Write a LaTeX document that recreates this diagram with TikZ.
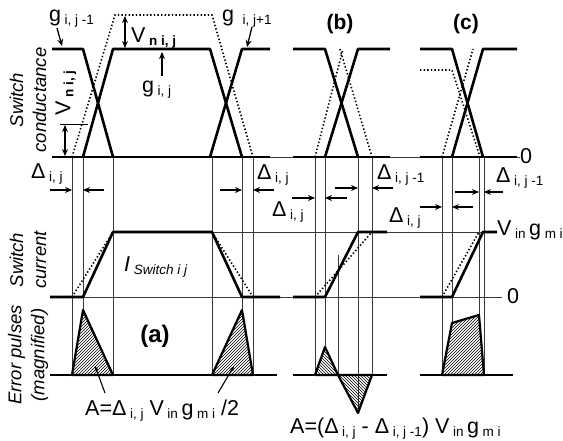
\documentclass[tikz,border=0pt]{standalone}
\usepackage{fontspec}
\setmainfont{Liberation Sans}
\usepackage{tikz}
\usetikzlibrary{arrows.meta, patterns}
\definecolor{grisGuia}{HTML}{3A3A3A}
\newcommand{\sbi}[1]{\,\raisebox{-3pt}{\fontsize{13.5}{14}\selectfont #1}}

\begin{document}
\begin{tikzpicture}[
    x=1pt, y=-1pt,
    font=\fontsize{21.5}{23}\selectfont,
    onda/.style={line width=2.6pt, line join=round},
    punteada/.style={line width=1.6pt, dash pattern=on 1.4pt off 2.2pt},
    guia/.style={line width=0.7pt, draw=grisGuia},
    flecha/.style={-{Stealth[length=7pt, width=6pt]}, line width=1.3pt},
    doble/.style={{Stealth[length=7pt, width=6pt]}-{Stealth[length=7pt, width=6pt]}, line width=1.3pt},
    eje/.style={font=\fontsize{18.5}{23}\selectfont\itshape, rotate=90, align=center},
    rotulo/.style={anchor=base west, inner sep=0pt},
    rayadoA/.style={pattern=north east lines, line width=2.2pt, line join=round},
    rayadoB/.style={pattern=north west lines, line width=2.2pt, line join=round}
]
    \useasboundingbox (0,0) rectangle (563,441);

    % ejes de la izquierda
    \node[eje] (ejeG) at (28,100) {Switch\\conductance};
    \node[eje] (ejeI) at (28,260) {Switch\\current};
    \node[eje] (ejeE) at (28,355) {Error pulses\\(magnified)};

    % lineas de referencia
    \draw[guia] (52,157) -- (520,157);
    \draw[guia] (113,232) -- (497,232);
    \draw[guia] (50,297) -- (502,297);
    \draw[guia] (72,157) -- (72,375) (83,157) -- (83,310) (113,157) -- (113,375)
                (212,157) -- (212,375) (242,157) -- (242,310) (253,157) -- (253,375);
    \draw[guia] (315,157) -- (315,375) (325,157) -- (325,347) (338,255) -- (338,375)
                (358,157) -- (358,413) (372,157) -- (372,375);
    \draw[guia] (442,157) -- (442,375) (452,157) -- (452,323) (479,157) -- (479,315)
                (484,157) -- (484,375);

    % conductancia (a)
    \draw[punteada] (72,157) -- (115,15) -- (212,15) -- (253,157);
    \draw[onda] (52,157) -- (270,157);
    \draw[onda] (52,49) -- (83,49) -- (113,157);
    \draw[onda] (83,157) -- (113,49) -- (210,49) -- (242,157);
    \draw[onda] (210,157) -- (242,49) -- (270,49);

    % conductancia (b)
    \draw[punteada] (315,157) -- (343,49);
    \draw[punteada] (340,49) -- (372,157);
    \draw[onda] (293,157) -- (390,157);
    \draw[onda] (293,49) -- (325,49) -- (358,157);
    \draw[onda] (325,157) -- (358,49) -- (390,49);

    % conductancia (c)
    \draw[punteada] (420,70) -- (452,70) -- (480,157);
    \draw[punteada] (442,157) -- (473,49);
    \draw[onda] (420,157) -- (517,157);
    \draw[onda] (420,49) -- (452,49) -- (483,157);
    \draw[onda] (452,157) -- (483,49) -- (517,49);

    % corriente
    \draw[punteada] (72,297) -- (113,232);
    \draw[punteada] (212,232) -- (253,297);
    \draw[punteada] (315,297) -- (372,232);
    \draw[punteada] (442,297) -- (479,232);
    \draw[onda] (50,297) -- (83,297) -- (113,232) -- (212,232) -- (242,297) -- (280,297);
    \draw[onda] (293,297) -- (325,297) -- (358,232) -- (387,232);
    \draw[onda] (420,297) -- (452,297) -- (483,232) -- (497,232);

    % pulsos de error
    \draw[rayadoA] (72,375) -- (83,310) -- (113,375) -- cycle;
    \draw[rayadoA] (212,375) -- (242,310) -- (253,375) -- cycle;
    \draw[rayadoB] (315,375) -- (325,347) -- (338,375) -- cycle;
    \draw[rayadoB] (338,375) -- (358,413) -- (372,375) -- cycle;
    \draw[rayadoA] (442,375) -- (452,323) -- (479,315) -- (484,375) -- cycle;
    \draw[onda] (50,375) -- (277,375);
    \draw[onda] (293,375) -- (387,375);
    \draw[onda] (420,375) -- (513,375);

    % rotulos de conductancia
    \node[rotulo] (gAnt) at (49,22) {g\sbi{i, j -1}};
    \node[rotulo] (gSig) at (222,22) {g\hspace{5pt}\sbi{i, j+1}};
    \node[rotulo] (vnSup) at (131,43) {V\sbi{\bfseries n i, j}};
    \node[rotulo] (gAct) at (142,93) {g\sbi{i, j}};
    \node[rotate=90] (vnIzq) at (66,93) {V\sbi{\bfseries n i, j}};
    \draw[flecha] (57,28) -- (62,46);
    \draw[flecha] (252,27) -- (247,47);
    \draw[flecha] (162,76) -- (162,52);
    \draw[doble] (125,16) -- (125,48);
    \draw[line width=0.9pt] (60,124) -- (88,124);
    \draw[doble] (65,125) -- (65,156);
    \node[rotulo] (ceroG) at (520,164) {0};

    % rotulos de Delta
    \node[rotulo] (dA1) at (31,179) {Δ\sbi{i, j}};
    \draw[flecha] (50,190) -- (72,190);
    \draw[flecha] (104,190) -- (83,190);
    \node[rotulo] (dA2) at (257,180) {Δ\sbi{i, j}};
    \draw[flecha] (220,190) -- (242,190);
    \draw[flecha] (274,190) -- (253,190);
    \node[rotulo] (dB1) at (272,217) {Δ\sbi{i, j}};
    \draw[flecha] (292,198) -- (315,198);
    \draw[flecha] (347,198) -- (325,198);
    \draw[flecha] (335,188) -- (358,188);
    \node[rotulo] (dB2) at (377,180) {Δ\sbi{i, j -1}};
    \draw[flecha] (393,188) -- (372,188);
    \node[rotulo] (dC1) at (496,183) {Δ\sbi{i, j -1}};
    \draw[flecha] (455,192) -- (479,192);
    \draw[flecha] (503,192) -- (484,192);
    \node[rotulo] (dC2) at (389,223) {Δ\sbi{i, j}};
    \draw[flecha] (420,207) -- (442,207);
    \draw[flecha] (473,207) -- (452,207);

    % rotulos de corriente
    \node[rotulo] (iSw) at (124,272) {\itshape I\sbi{\itshape Switch i j}};
    \node[rotulo] (vg) at (497,236) {V\sbi{in}\,g\sbi{m i}};
    \node[rotulo] (ceroI) at (507,304) {0};

    % rotulos de error
    \node[font=\fontsize{24}{26}\selectfont\bfseries] (casoA) at (155,336) {(a)};
    \node[font=\fontsize{21}{23}\selectfont\bfseries] (casoB) at (340,24) {(b)};
    \node[font=\fontsize{21}{23}\selectfont\bfseries] (casoC) at (466,24) {(c)};
    \node[rotulo] (areaA) at (85,415) {A=Δ\sbi{i, j} V\sbi{in}\,g\sbi{m i} /2};
    \draw[-{Stealth[length=5pt, width=4pt]}, line width=1.1pt] (105,393) -- (95,366);
    \draw[-{Stealth[length=5pt, width=4pt]}, line width=1.1pt] (218,393) -- (234,366);
    \node[rotulo] (areaB) at (290,433) {A=(Δ\sbi{i, j} - Δ\sbi{i, j -1}) V\sbi{in}\,g\sbi{m i}};
\end{tikzpicture}
\end{document}
